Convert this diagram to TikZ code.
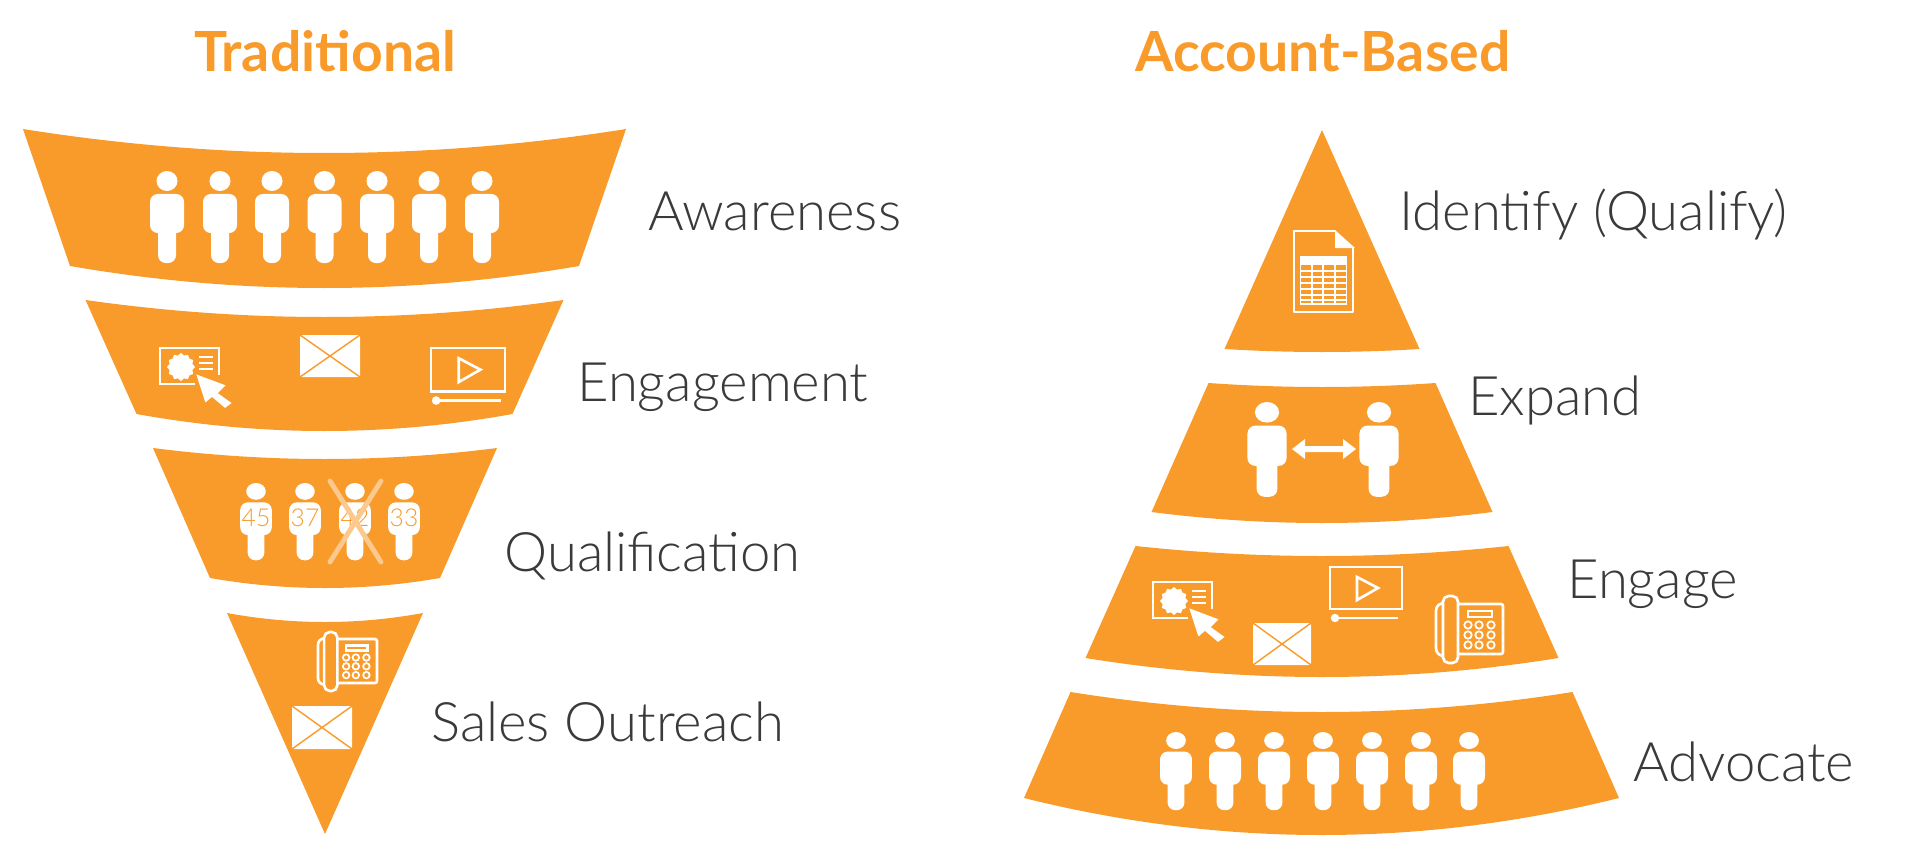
\documentclass[tikz,border=0pt]{standalone}
\usepackage{fontspec}
\setmainfont{Lato}
\newfontfamily\lightfont{Lato Light}
\definecolor{funnelorange}{HTML}{F99B2A}
\definecolor{paleorange}{HTML}{FBC88E}
\definecolor{labelgray}{HTML}{3A3A3A}
\tikzset{
  bandfill/.style={fill=funnelorange},
  title/.style={text=funnelorange,font=\fontsize{31.5}{36}\selectfont\bfseries,anchor=base,inner sep=0pt},
  stagelabel/.style={text=labelgray,font=\lightfont\fontsize{31}{36}\selectfont,anchor=base west,inner sep=0pt},
  agelabel/.style={text=funnelorange,font=\lightfont\fontsize{14}{16}\selectfont,inner sep=0pt},
  iconline/.style={draw=white,line width=1.5pt},
  whitefill/.style={fill=white},
  cross/.style={draw=paleorange,line width=2.8pt,line cap=round}
}
% cx, half top, y top corner, y top mid, half bottom, y bottom corner, y bottom mid
\newcommand{\bandshape}[7]{%
  \pgfmathsetmacro\ctrlA{#3+(#4-#3)*4/3}%
  \pgfmathsetmacro\ctrlB{#6+(#7-#6)*4/3}%
  \fill[bandfill] (#1-#2,#3) .. controls (#1-#2/3,\ctrlA) and (#1+#2/3,\ctrlA) .. (#1+#2,#3)
    -- (#1+#5,#6) .. controls (#1+#5/3,\ctrlB) and (#1-#5/3,\ctrlB) .. (#1-#5,#6) -- cycle;}
% x, y of head top, xscale, yscale
\newcommand{\personicon}[4]{%
  \begin{scope}[shift={(#1,#2)},xscale=#3,yscale=#4]
    \fill[whitefill] (0,10) ellipse [x radius=10.5,y radius=10];
    \fill[whitefill,rounded corners=4.4pt] (-17,23) rectangle (17,62);
    \fill[whitefill,rounded corners=4.4pt] (-9,50) rectangle (9,92);
  \end{scope}}
\newcommand{\envelopeicon}[4]{% x,y,w,h
  \begin{scope}[shift={(#1,#2)}]
    \fill[whitefill,rounded corners=1.2pt] (0,0) rectangle (#3,#4);
    \draw[funnelorange,line width=0.8pt] (0,0) -- (#3,#4) (#3,0) -- (0,#4);
  \end{scope}}
\newcommand{\webicon}[2]{%
  \begin{scope}[shift={(#1,#2)}]
    \draw[iconline] (35,36) -- (0,36) -- (0,0) -- (59,0) -- (59,27);
    \fill[whitefill] (35,19) \foreach \a in {0,30,...,330} {
      -- ({21+14*cos(\a)},{19+14*sin(\a)}) -- ({21+11.8*cos(\a+15)},{19+11.8*sin(\a+15)}) } -- cycle;
    \draw[iconline] (39,9) -- (53,9) (39,15) -- (53,15) (39,21) -- (53,21);
    \fill[whitefill,draw=funnelorange,line width=0.8pt,line join=miter]
      (35,25) -- (67,37) -- (59,45) -- (73,55) -- (65,61) -- (52,50) -- (45,56) -- cycle;
  \end{scope}}
\newcommand{\videoicon}[3]{% x,y,scale
  \begin{scope}[shift={(#1,#2)},scale=#3]
    \draw[iconline] (0,0) rectangle (72,42);
    \draw[iconline,line join=miter] (27,10) -- (27,33) -- (48,21) -- cycle;
    \draw[iconline] (5,51) -- (68,51);
    \fill[whitefill] (5,51) circle (4.2);
  \end{scope}}
\newcommand{\phoneicon}[3]{% x,y,scale
  \begin{scope}[shift={(#1,#2)},scale=#3]
    \draw[iconline,rounded corners=3.2pt] (7,0) rectangle (22,67);
    \draw[iconline] (7,7) .. controls (3,8) and (0,10) .. (0,15) -- (0,52) .. controls (0,57) and (3,59) .. (7,60);
    \draw[iconline,rounded corners=1.2pt] (22,8) -- (67,8) -- (67,58) -- (22,58);
    \draw[iconline] (32,15) rectangle (56,21);
    \foreach \px in {32,43,55} \foreach \py in {29,39,49} \draw[white,line width=1pt] (\px,\py) circle (3.7);
  \end{scope}}
\begin{document}
\begin{tikzpicture}[x=0.02cm,y=-0.02cm]
\useasboundingbox (0,0) rectangle (1912,868);
% titles
\node[title] (ttrad) at (325,71.5) {Traditional};
\node[title] (tacct) at (1323,71.5) {Account-Based};
% left funnel
\bandshape{324.5}{301.5}{129}{153}{254.5}{266}{288}
\bandshape{324.5}{239}{300}{317}{188}{414}{431}
\bandshape{325}{172}{448}{459}{115}{578}{588}
\bandshape{325}{98}{613}{622}{0}{834}{834}
% right pyramid
\bandshape{1322}{0}{130}{130}{97.5}{349}{352}
\bandshape{1322}{113.5}{383}{387}{170.5}{512}{523}
\bandshape{1322}{186.5}{546}{556}{236.5}{658}{677}
\bandshape{1321.5}{251}{692}{712}{297.5}{798}{835}
% labels
\node[stagelabel] (lab1) at (648,231) {Awareness};
\node[stagelabel] (lab2) at (577,401) {Engagement};
\node[stagelabel] (lab3) at (504,571) {Qualification};
\node[stagelabel] (lab4) at (431,741) {Sales Outreach};
\node[stagelabel] (lab5) at (1399,231) {Identify (Qualify)};
\node[stagelabel] (lab6) at (1468,415) {Expand};
\node[stagelabel] (lab7) at (1567,598) {Engage};
\node[stagelabel] (lab8) at (1633,781) {Advocate};
% awareness people
\foreach \px in {167,220,272,324.5,377,429,482} \personicon{\px}{171}{1}{1};
% engagement
\webicon{160}{348}
\envelopeicon{300}{335}{60}{42}
\videoicon{431}{348}{1.03}
% qualification
\foreach \px in {256,305,355,404} \personicon{\px}{483}{0.93}{0.84};
\node[agelabel] (age1) at (256,518) {45};
\node[agelabel] (age2) at (305,518) {37};
\node[agelabel] (age3) at (355,518) {42};
\node[agelabel] (age4) at (404,518) {33};
\coordinate (xa) at (330,481); \coordinate (xb) at (381,562);
\coordinate (xc) at (381,481); \coordinate (xd) at (330,562);
\draw[cross] (xa) -- (xb); \draw[cross] (xc) -- (xd);
% sales outreach
\phoneicon{318}{632}{0.88}
\envelopeicon{292}{706}{60}{43}
% identify
\draw[iconline,line join=round] (1335,231) -- (1294,231) -- (1294,312) -- (1353,312) -- (1353,248);
\fill[whitefill] (1335,230) -- (1355,248) -- (1335,248) -- cycle;
\fill[whitefill] (1300,257) rectangle (1347,265);
\draw[white,line width=0.7pt] (1300.5,257) rectangle (1346.5,304);
\foreach \gy in {271,277,283,289,295,300} \draw[white,line width=0.6pt] (1300,\gy) -- (1347,\gy);
\foreach \gx in {1312,1323,1335} \draw[white,line width=0.6pt] (\gx,257) -- (\gx,304);
% expand
\personicon{1267}{402}{1.15}{1.03};
\personicon{1379}{402}{1.15}{1.03};
\coordinate (arrA) at (1292,449); \coordinate (arrB) at (1356,449);
\fill[whitefill] (arrA) -- ++(13,-10) -- ++(0,7) -- ++(38,0) -- ++(0,-7) -- (arrB) -- ++(-13,10) -- ++(0,-7) -- ++(-38,0) -- ++(0,7) -- cycle;
% engage
\webicon{1153}{582}
\envelopeicon{1253}{623}{58}{42}
\videoicon{1330}{567}{1}
\phoneicon{1436}{596}{1}
% advocate
\foreach \px in {1176,1225,1274,1323,1372,1421,1469} \personicon{\px}{732}{0.94}{0.85};
\end{tikzpicture}
\end{document}
